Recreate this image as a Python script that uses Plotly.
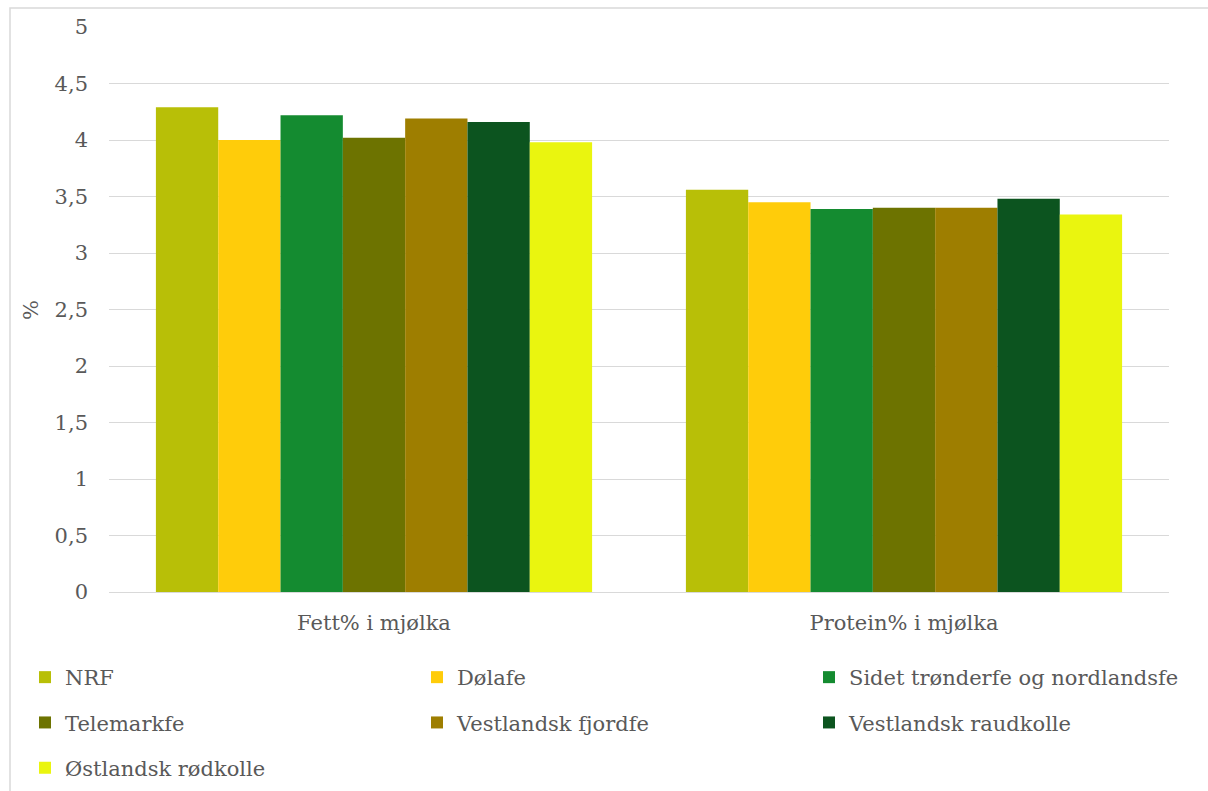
import plotly.graph_objects as go

categories = ["Fett% i mjølka", "Protein% i mjølka"]
breeds = ["NRF", "Dølafe", "Sidet trønderfe og nordlandsfe", "Telemarkfe",
          "Vestlandsk fjordfe", "Vestlandsk raudkolle", "Østlandsk rødkolle"]
nrf = [4.29, 3.56]
dolafe = [4.00, 3.45]
sidet = [4.22, 3.39]
telemark = [4.02, 3.40]
fjordfe = [4.19, 3.40]
raudkolle = [4.16, 3.48]
rodkolle = [3.98, 3.34]
values = [nrf, dolafe, sidet, telemark, fjordfe, raudkolle, rodkolle]
colors = ["#B8BF07", "#FFCC0A", "#148B30", "#6D7300", "#9E7E00", "#0C541F", "#EAF50F"]
legend_ids = ["legend", "legend2", "legend3", "legend", "legend2", "legend3", "legend"]

W, H = 1208, 791
L, R, T, B = 109, 39, 27, 199
pw, ph = W - L - R, H - T - B

def px2x(px):
    return (px - L) / pw

def px2y(py):
    return (H - B - py) / ph

fig = go.Figure()
for name, vals, col, lg in zip(breeds, values, colors, legend_ids):
    fig.add_trace(go.Bar(x=categories, y=vals, name=name, marker_color=col,
                         marker_line_width=0, legend=lg, legendgroup=name))

font = dict(family="DejaVu Serif", size=21, color="#595959")
leg_common = dict(orientation="v", xanchor="left", yanchor="top", traceorder="grouped",
                  tracegroupgap=15, font=font, bgcolor="rgba(0,0,0,0)", borderwidth=0)
legend_top = 657
fig.update_layout(
    width=W, height=H,
    margin=dict(l=L, r=R, t=T, b=B, autoexpand=False),
    paper_bgcolor="white", plot_bgcolor="white",
    separators=", ",
    barmode="group", bargap=0.177, bargroupgap=0,
    font=font,
    xaxis=dict(showgrid=False, showline=True, linecolor="#D9D9D9", linewidth=1,
               ticks="", ticklabelstandoff=12, tickfont=font, automargin=False),
    yaxis=dict(range=[0, 5], dtick=0.5, showgrid=True, gridcolor="#D9D9D9", gridwidth=1,
               zeroline=False, ticks="", ticklabelstandoff=20, tickfont=font,
               tickformat=".1~f", automargin=False),
    legend=dict(x=px2x(25), y=px2y(legend_top), **leg_common),
    legend2=dict(x=px2x(417), y=px2y(legend_top), **leg_common),
    legend3=dict(x=px2x(809), y=px2y(legend_top), **leg_common),
    annotations=[dict(text="%", textangle=-90, xref="paper", yref="paper",
                      x=px2x(31), y=px2y(310), xanchor="center", yanchor="middle",
                      showarrow=False, font=font)],
    shapes=[dict(type="rect", xref="paper", yref="paper",
                 x0=px2x(10), x1=px2x(1300), y0=px2y(900), y1=px2y(8),
                 line=dict(color="#D9D9D9", width=1.5), fillcolor="rgba(0,0,0,0)", layer="below")],
)
fig.write_html("out.html")
